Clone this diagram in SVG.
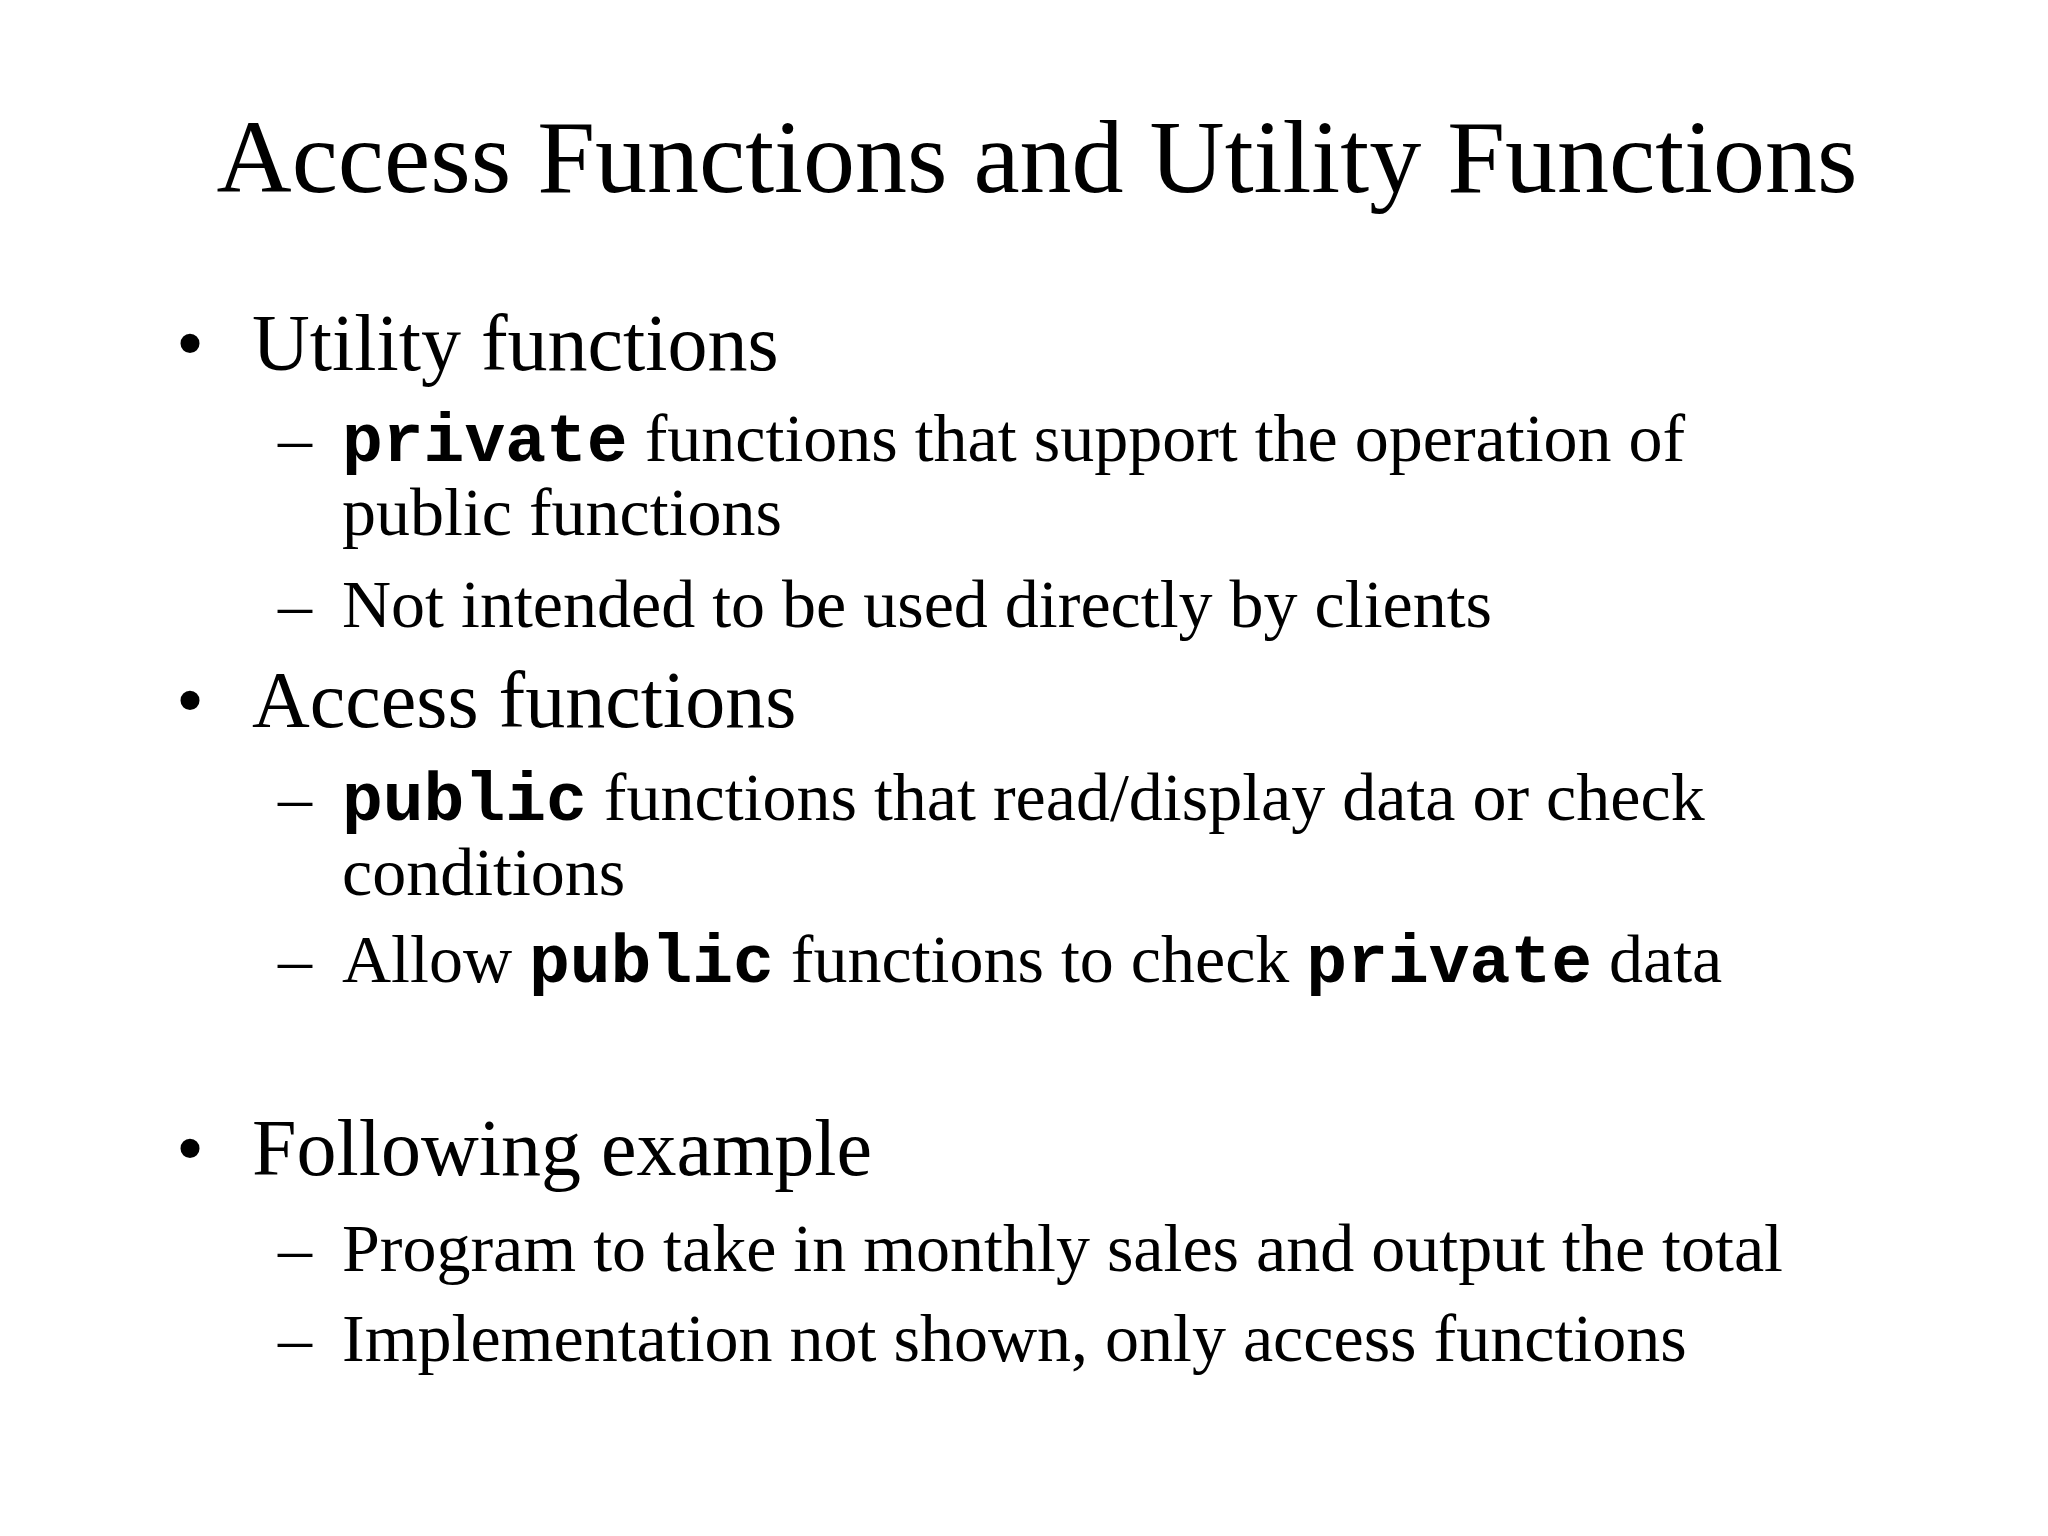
<svg xmlns="http://www.w3.org/2000/svg" width="2048" height="1536" viewBox="0 0 2048 1536">
<style>
text{font-family:"Liberation Serif","Times New Roman",serif;fill:#000}
.t{font-size:104px}
.b{font-size:80px}
.s{font-size:68px}
.m{font-family:"Liberation Mono","Courier New",monospace;font-weight:bold}
</style>
<rect width="2048" height="1536" fill="#fff"/>
<text class="t" x="1037" y="192" text-anchor="middle">Access Functions and Utility Functions</text>
<g id="b1">
<text class="b" x="176" y="370">•</text><text class="b" x="252" y="370">Utility functions</text>
<text class="s" x="278" y="461">–</text><text class="s" x="342" y="461"><tspan class="m">private</tspan> functions that support the operation of</text>
<text class="s" x="342" y="535">public functions</text>
<text class="s" x="278" y="627">–</text><text class="s" x="342" y="627">Not intended to be used directly by clients</text>
</g>
<g id="b2">
<text class="b" x="176" y="727">•</text><text class="b" x="252" y="727">Access functions</text>
<text class="s" x="278" y="820">–</text><text class="s" x="342" y="820"><tspan class="m">public</tspan> functions that read/display data or check</text>
<text class="s" x="342" y="895">conditions</text>
<text class="s" x="278" y="982">–</text><text class="s" x="342" y="982">Allow <tspan class="m">public</tspan> functions to check <tspan class="m">private</tspan> data</text>
</g>
<g id="b3">
<text class="b" x="176" y="1175">•</text><text class="b" x="252" y="1175">Following example</text>
<text class="s" x="278" y="1271">–</text><text class="s" x="342" y="1271">Program to take in monthly sales and output the total</text>
<text class="s" x="278" y="1361">–</text><text class="s" x="342" y="1361">Implementation not shown, only access functions</text>
</g>
</svg>
